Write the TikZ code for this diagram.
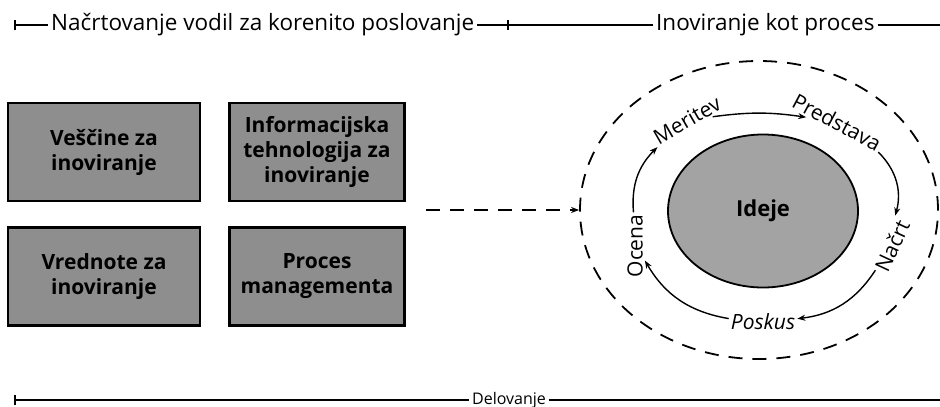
\documentclass[tikz,border=0pt]{standalone}
\usepackage{fontspec}
\setmainfont{Open Sans}
\usetikzlibrary{arrows.meta,positioning,shapes.geometric}
\definecolor{bxgray}{HTML}{8E8E8E}
\definecolor{idgray}{HTML}{A3A3A3}

\begin{document}
\begin{tikzpicture}[x=1pt,y=-1pt,>={Stealth[length=8pt,width=6pt]},node distance=24pt and 27pt,
 font=\fontsize{21}{25}\selectfont,
 field/.style={draw=black,line width=2.5pt,fill=bxgray,minimum height=98pt,align=center,font=\fontsize{21}{25}\selectfont\bfseries},
 head/.style={anchor=west,inner sep=3pt,font=\fontsize{22.5}{27}\selectfont},
 rule/.style={line width=1.5pt},
 cyc/.style={inner sep=2pt},
 flow/.style={->,line width=1.4pt}]
\useasboundingbox (0,0) rectangle (940,407);
% naslovi in crte
\node[head](plan) at (48,25){Načrtovanje vodil za korenito poslovanje};
\node[head](proc) at (653,25){Inoviranje kot proces};
\node[font=\fontsize{16}{19}\selectfont,inner sep=3pt](delo) at (509,400){Delovanje};
\coordinate(tl) at (14,25);
\coordinate(tr) at (940,25);
\coordinate(mid) at (508,25);
\coordinate(bl) at (14,400);
\coordinate(br) at (940,400);
\draw[rule,{Bar[width=10pt]}-](tl)--(plan.west);
\draw[rule](plan.east)--(proc.west);
\draw[rule](proc.east)--(tr);
\draw[rule](mid)++(0,-5)--++(0,10);
\draw[rule,{Bar[width=10pt]}-](bl)--(delo.west);
\draw[rule](delo.east)--(br);
% vodila
\node[field,minimum width=192pt](vescine) at (104,152){Veščine za\\inoviranje};
\node[field,minimum width=175pt,right=of vescine](it){Informacijska\\tehnologija za\\inoviranje};
\node[field,minimum width=192pt,below=of vescine](vred){Vrednote za\\inoviranje};
\node[field,minimum width=175pt,below=of it](mgmt){Proces\\managementa};
% proces
\node[ellipse,draw,line width=1.8pt,dash pattern=on 14pt off 10pt,minimum width=358pt,minimum height=298pt](cycle) at (759,210){};
\node[ellipse,draw,line width=1.8pt,fill=idgray,minimum width=190pt,minimum height=153pt,font=\fontsize{22}{26}\selectfont\bfseries](ideje) at (763,211){Ideje};
\node[cyc,rotate=30](meritev) at (687,120){Meritev};
\node[cyc,rotate=-28](predstava) at (837,122){Predstava};
\node[cyc,rotate=65](nacrt) at (892,246){Načrt};
\node[cyc,font=\fontsize{21}{25}\selectfont\itshape](poskus) at (763,322){Poskus};
\node[cyc,rotate=90](ocena) at (635,246){Ocena};
\draw[flow](ocena) to[bend left=25](meritev);
\draw[flow](meritev) to[bend left=8](predstava);
\draw[flow](predstava) to[bend left=30](nacrt);
\draw[flow](nacrt) to[bend left=25](poskus);
\draw[flow](poskus) to[bend left=25](ocena);
\coordinate(dstart) at (426,210);
\draw[flow,dash pattern=on 14pt off 10pt](dstart)--(cycle.west);
\end{tikzpicture}
\end{document}
